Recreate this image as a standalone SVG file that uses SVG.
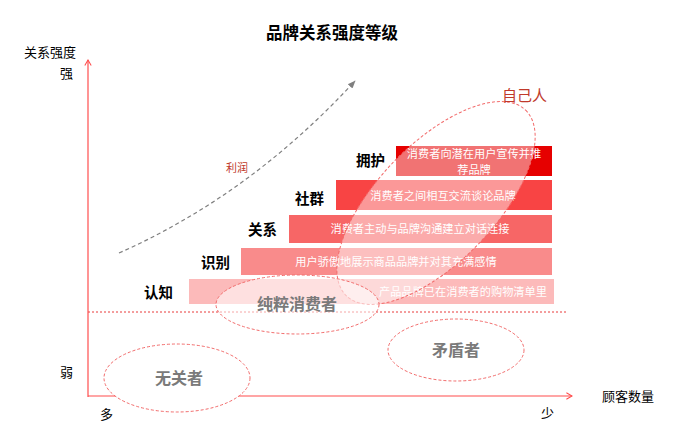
<svg xmlns="http://www.w3.org/2000/svg" width="700" height="443" viewBox="0 0 700 443">
<defs>
<marker id="ah" viewBox="0 0 10 10" refX="9" refY="5" markerWidth="8" markerHeight="8" orient="auto" markerUnits="userSpaceOnUse">
<path d="M2,1 L9,5 L2,9" fill="none" stroke="#FF4D4D" stroke-width="1.3"/>
</marker>
<marker id="gh" viewBox="0 0 10 10" refX="9" refY="5" markerWidth="8" markerHeight="8" orient="auto" markerUnits="userSpaceOnUse">
<path d="M0,1 L10,5 L0,9 Z" fill="#7F7F7F"/>
</marker>
</defs>
<style>
text{font-family:"Noto Sans CJK SC","Noto Sans",sans-serif}
.title{font-size:16.5px;font-weight:bold;fill:#000;text-anchor:middle}
.ax{font-size:13px;fill:#000}
.lvl{font-size:14.5px;font-weight:bold;fill:#000}
.bt{font-size:11.2px;fill:#fff;text-anchor:middle}
.el{stroke:#F26B6B;stroke-width:1;stroke-dasharray:3 2}
.et{font-size:16px;font-weight:bold;fill:#7A7A7A;text-anchor:middle}
</style>
<rect width="700" height="443" fill="#fff"/>
<text class="title" x="332" y="39">品牌关系强度等级</text>
<text class="ax" x="24" y="57">关系强度</text>
<text class="ax" x="60" y="78">强</text>
<text class="ax" x="60" y="377">弱</text>
<text class="ax" x="100" y="419">多</text>
<text class="ax" x="541" y="418">少</text>
<text class="ax" x="602" y="401">顾客数量</text>

<g id="connectors">
<line x1="88" y1="312" x2="566" y2="312" stroke="#E83A3A" stroke-width="1" stroke-dasharray="2 2"/>
<line x1="88" y1="397" x2="88" y2="60" stroke="#FF4D4D" stroke-width="1.2" marker-end="url(#ah)"/>
<line x1="88" y1="396" x2="572" y2="396" stroke="#FF4D4D" stroke-width="1.2" marker-end="url(#ah)"/>
<path d="M119,253 Q250,195 355,81" fill="none" stroke="#7F7F7F" stroke-width="1.2" stroke-dasharray="4 3" marker-end="url(#gh)"/>
<text x="226" y="172" font-size="11px" fill="#C0392B">利润</text>
</g>

<g id="level-renzhi">
<rect x="189" y="279" width="365" height="25" fill="#FCBABA"/>
<text class="lvl" x="144" y="298">认知</text>
<text class="bt" x="463" y="296">产品品牌已在消费者的购物清单里</text>
</g>
<g id="level-shibie">
<rect x="241" y="248" width="311" height="27" fill="#F98B8B"/>
<text class="lvl" x="201" y="268">识别</text>
<text class="bt" x="396" y="266">用户骄傲地展示商品品牌并对其充满感情</text>
</g>
<g id="level-guanxi">
<rect x="289" y="215" width="263" height="28" fill="#F76666"/>
<text class="lvl" x="248" y="235">关系</text>
<text class="bt" x="420" y="233">消费者主动与品牌沟通建立对话连接</text>
</g>
<g id="level-shequn">
<rect x="336" y="180" width="216" height="30" fill="#F84444"/>
<text class="lvl" x="295" y="204">社群</text>
<text class="bt" x="443" y="200">消费者之间相互交流谈论品牌</text>
</g>
<g id="level-yonghu">
<rect x="396" y="146" width="156" height="30" fill="#E60000"/>
<text class="lvl" x="356" y="166">拥护</text>
<text class="bt" x="474" y="157.5">消费者向潜在用户宣传并推</text>
<text class="bt" x="474" y="173.5">荐品牌</text>
</g>

<g id="zijiren">
<ellipse cx="436" cy="203" rx="129" ry="59" transform="rotate(-46 436 203)" fill="#fff" fill-opacity="0.45" class="el"/>
<text x="502" y="101" font-size="15px" fill="#C0392B">自己人</text>
</g>
<g id="chuncui">
<ellipse cx="297.5" cy="304.5" rx="81.5" ry="29.5" fill="#fff" fill-opacity="0.55" class="el"/>
<text class="et" x="297" y="310">纯粹消费者</text>
</g>
<g id="wuguan">
<ellipse cx="177" cy="378" rx="73" ry="34" fill="#fff" class="el"/>
<text class="et" x="179" y="384">无关者</text>
</g>
<g id="maodun">
<ellipse cx="456" cy="350" rx="68" ry="31" fill="#fff" class="el"/>
<text class="et" x="456" y="356">矛盾者</text>
</g>
</svg>
